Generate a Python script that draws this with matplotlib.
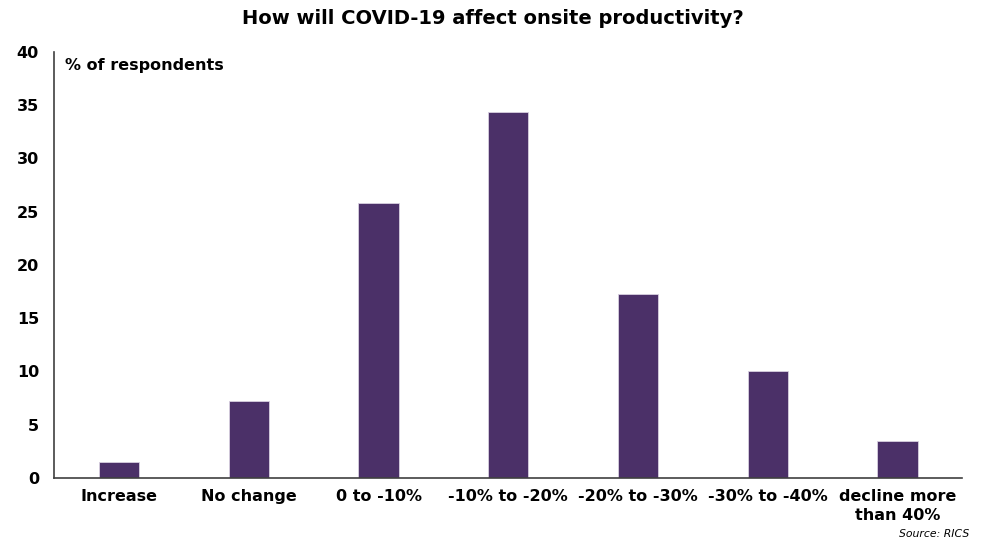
import matplotlib.pyplot as plt

categories = ["Increase", "No change", "0 to -10%", "-10% to -20%",
              "-20% to -30%", "-30% to -40%", "decline more\nthan 40%"]
values = [1.5, 7.2, 25.8, 34.4, 17.3, 10.0, 3.5]
yticks = [0, 5, 10, 15, 20, 25, 30, 35, 40]

plt.rcParams["font.family"] = ["DejaVu Sans"]

fig = plt.figure(figsize=(9.86, 5.41), dpi=100)
ax = fig.add_axes([0.055, 0.1165, 0.921, 0.7875])

ax.bar(range(len(categories)), values, width=0.31, color="#4B3068",
       edgecolor="#d8d0e0", linewidth=0.6)

ax.set_xlim(-0.5, len(categories) - 0.5)
ax.set_ylim(0, 40)
ax.set_yticks(yticks)
ax.set_xticks(range(len(categories)))
ax.set_xticklabels(categories, fontsize=11.5, fontweight="bold", linespacing=1.35)
ax.set_yticklabels([str(t) for t in yticks], fontsize=11.5, fontweight="bold")
ax.tick_params(axis="both", length=0, pad=8)
ax.tick_params(axis="y", pad=11)

for side in ["top", "right"]:
    ax.spines[side].set_visible(False)
for side in ["left", "bottom"]:
    ax.spines[side].set_color("#404040")
    ax.spines[side].set_linewidth(1.2)

ax.text(0.012, 0.985, "% of respondents", transform=ax.transAxes,
        fontsize=11.5, fontweight="bold", va="top", ha="left")

fig.text(0.5, 0.966, "How will COVID-19 affect onsite productivity?",
         fontsize=14, fontweight="bold", ha="center", va="center")
fig.text(0.983, 0.004, "Source: RICS", fontsize=7.8, style="italic",
         ha="right", va="bottom")

fig.savefig("out.png", dpi=100)
